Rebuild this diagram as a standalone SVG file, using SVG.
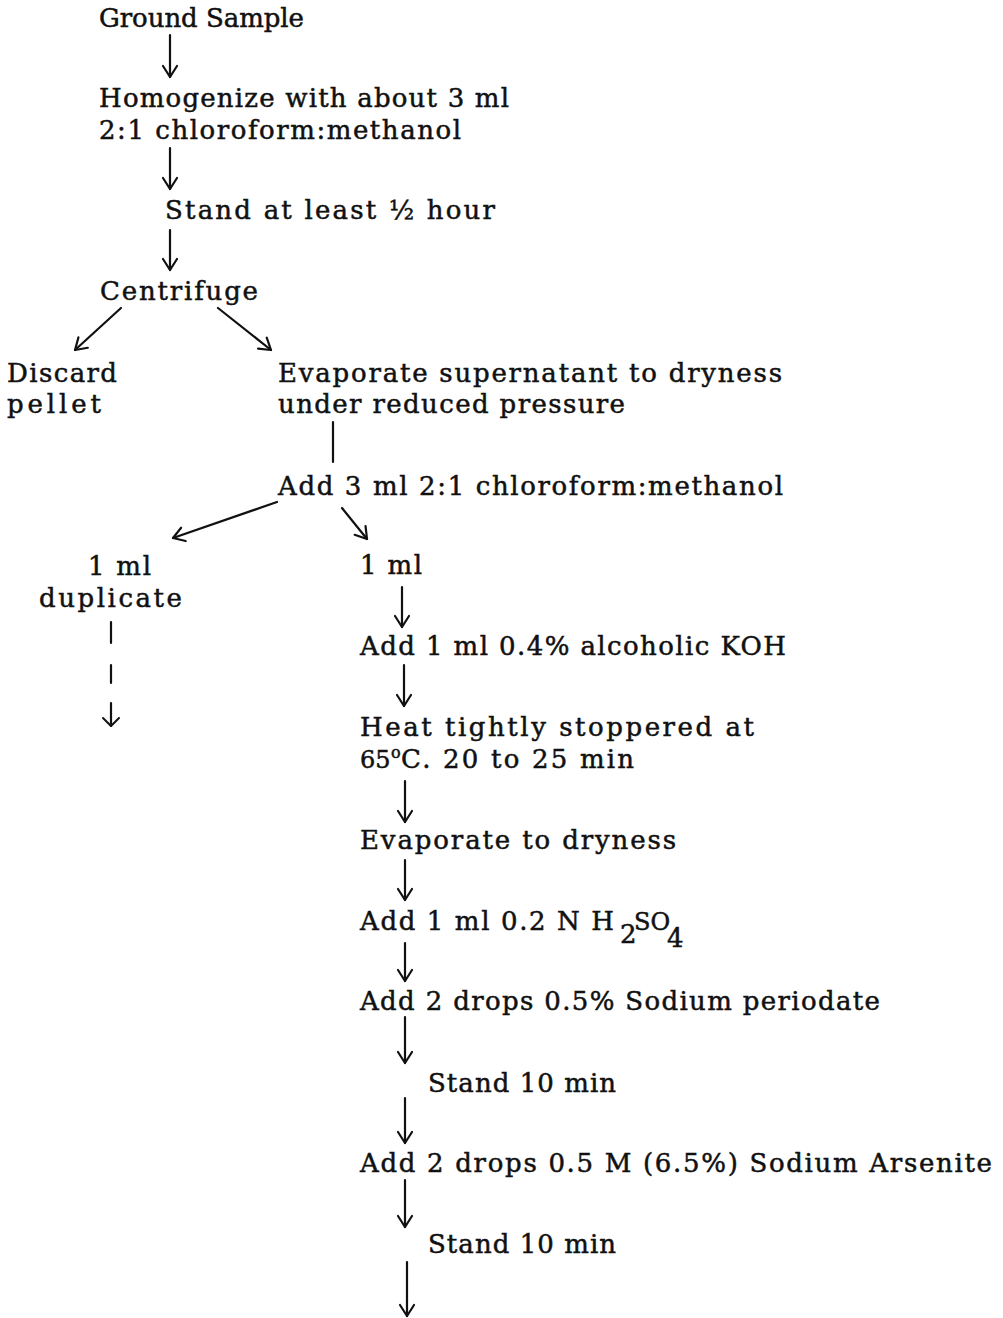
<svg xmlns="http://www.w3.org/2000/svg" width="1003" height="1318" viewBox="0 0 1003 1318">
<style>
text{font-family:"DejaVu Serif","Liberation Serif",serif;font-size:26px;fill:#111;stroke:#111;stroke-width:0.5px}
.c line,.c path{stroke:#111;stroke-width:2.2;fill:none;stroke-linecap:round}
</style>
<defs>
<marker id="a" markerUnits="userSpaceOnUse" viewBox="-13 -9 15 18" refX="0" refY="0" markerWidth="15" markerHeight="18" orient="auto">
<path d="M-11,-7 L0,0 L-11,7" fill="none" stroke="#111" stroke-width="2.2" stroke-linecap="round" stroke-linejoin="round"/>
</marker>
<marker id="s" markerUnits="userSpaceOnUse" viewBox="-11 -10 13 20" refX="0" refY="0" markerWidth="13" markerHeight="20" orient="auto">
<path d="M-8,-8 L0,0 L-8,8" fill="none" stroke="#111" stroke-width="2" stroke-linecap="round" stroke-linejoin="round"/>
</marker>
</defs>
<rect width="1003" height="1318" fill="#fff"/>
<g id="n-ground"><text x="99" y="27" textLength="205" lengthAdjust="spacing">Ground Sample</text></g>
<g id="n-homogenize"><text x="99" y="107" textLength="410" lengthAdjust="spacing">Homogenize with about 3 ml</text><text x="99" y="139" textLength="362" lengthAdjust="spacing">2:1 chloroform:methanol</text></g>
<g id="n-stand1"><text x="165" y="219" textLength="330" lengthAdjust="spacing">Stand at least ½ hour</text></g>
<g id="n-centrifuge"><text x="100" y="300" textLength="158" lengthAdjust="spacing">Centrifuge</text></g>
<g id="n-discard"><text x="7" y="382" textLength="110" lengthAdjust="spacing">Discard</text><text x="7" y="413" textLength="94" lengthAdjust="spacing">pellet</text></g>
<g id="n-evaporate1"><text x="278" y="382" textLength="504" lengthAdjust="spacing">Evaporate supernatant to dryness</text><text x="278" y="413" textLength="347" lengthAdjust="spacing">under reduced pressure</text></g>
<g id="n-add3"><text x="278" y="495" textLength="505" lengthAdjust="spacing">Add 3 ml 2:1 chloroform:methanol</text></g>
<g id="n-dup"><text x="88" y="575" textLength="63" lengthAdjust="spacing">1 ml</text><text x="39" y="607" textLength="143" lengthAdjust="spacing">duplicate</text></g>
<g id="n-1ml"><text x="360" y="574" textLength="62" lengthAdjust="spacing">1 ml</text></g>
<g id="n-koh"><text x="360" y="655" textLength="426" lengthAdjust="spacing">Add 1 ml 0.4% alcoholic KOH</text></g>
<g id="n-heat"><text x="360" y="736" textLength="394" lengthAdjust="spacing">Heat tightly stoppered at</text>
<text y="768"><tspan x="360" style="font-size:24px">65</tspan><tspan x="391" y="758" style="font-size:16px">o</tspan><tspan x="401" y="768" textLength="233" lengthAdjust="spacing">C. 20 to 25 min</tspan></text></g>
<g id="n-evaporate2"><text x="360" y="849" textLength="316" lengthAdjust="spacing">Evaporate to dryness</text></g>
<g id="n-h2so4"><text y="930"><tspan x="360" textLength="254" lengthAdjust="spacing">Add 1 ml 0.2 N H</tspan><tspan x="620" y="943">2</tspan><tspan x="634" y="930" style="font-size:24px">SO</tspan><tspan x="667" y="947">4</tspan></text></g>
<g id="n-periodate"><text x="360" y="1010" textLength="520" lengthAdjust="spacing">Add 2 drops 0.5% Sodium periodate</text></g>
<g id="n-stand2"><text x="428" y="1092" textLength="188" lengthAdjust="spacing">Stand 10 min</text></g>
<g id="n-arsenite"><text x="360" y="1172" textLength="632" lengthAdjust="spacing">Add 2 drops 0.5 M (6.5%) Sodium Arsenite</text></g>
<g id="n-stand3"><text x="428" y="1253" textLength="188" lengthAdjust="spacing">Stand 10 min</text></g>
<g id="connectors" class="c">
<line x1="170" y1="35" x2="170" y2="77" marker-end="url(#a)"/>
<line x1="170" y1="148" x2="170" y2="189" marker-end="url(#a)"/>
<line x1="170" y1="230" x2="170" y2="270" marker-end="url(#a)"/>
<line x1="121" y1="308" x2="75" y2="350" marker-end="url(#a)"/>
<line x1="218" y1="308" x2="271" y2="350" marker-end="url(#a)"/>
<line x1="333" y1="422" x2="333" y2="462"/>
<line x1="277" y1="502" x2="173" y2="538" marker-end="url(#a)"/>
<line x1="342" y1="508" x2="367" y2="539" marker-end="url(#a)"/>
<line x1="111" y1="622" x2="111" y2="643"/>
<line x1="111" y1="665" x2="111" y2="683"/>
<line x1="111" y1="703" x2="111" y2="726" marker-end="url(#s)"/>
<line x1="402" y1="587" x2="402" y2="627" marker-end="url(#a)"/>
<line x1="404" y1="665" x2="404" y2="706" marker-end="url(#a)"/>
<line x1="405" y1="781" x2="405" y2="822" marker-end="url(#a)"/>
<line x1="405" y1="860" x2="405" y2="900" marker-end="url(#a)"/>
<line x1="405" y1="943" x2="405" y2="981" marker-end="url(#a)"/>
<line x1="405" y1="1017" x2="405" y2="1063" marker-end="url(#a)"/>
<line x1="405" y1="1098" x2="405" y2="1143" marker-end="url(#a)"/>
<line x1="405" y1="1180" x2="405" y2="1227" marker-end="url(#a)"/>
<line x1="407" y1="1262" x2="407" y2="1316" marker-end="url(#a)"/>
</g>
</svg>
